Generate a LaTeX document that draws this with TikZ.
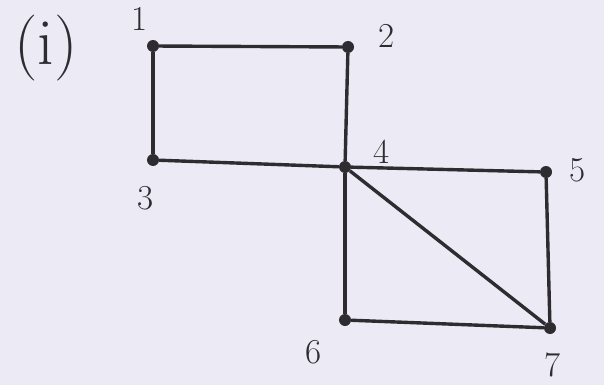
\documentclass[tikz,border=0pt]{standalone}
\begin{document}
\begin{tikzpicture}[x=1pt,y=-1pt,
  vert/.style={circle,fill=ink,inner sep=0pt,minimum size=12pt},
  edge/.style={draw=ink,line width=3.4pt},
  lbl/.style={text=ink,font=\fontsize{35}{40}\selectfont,inner sep=0pt}]
\definecolor{ink}{HTML}{2E2C30}
\definecolor{paper}{HTML}{ECEAF4}
\fill[paper] (0,0) rectangle (604,385);
\useasboundingbox (0,0) rectangle (604,385);
\node[vert] (v1) at (153,46) {};
\node[vert] (v2) at (348,47) {};
\node[vert] (v3) at (153,160) {};
\node[vert] (v4) at (345,167) {};
\node[vert] (v5) at (546,172) {};
\node[vert] (v6) at (345,320) {};
\node[vert] (v7) at (550,328) {};
\draw[edge] (v1) -- (v2);
\draw[edge] (v1) -- (v3);
\draw[edge] (v2) -- (v4);
\draw[edge] (v3) -- (v4);
\draw[edge] (v4) -- (v5);
\draw[edge] (v4) -- (v6);
\draw[edge] (v4) -- (v7);
\draw[edge] (v5) -- (v7);
\draw[edge] (v6) -- (v7);
\node[lbl] (l1) at (140,19) {1};
\node[lbl] (l2) at (387,36) {2};
\node[lbl] (l3) at (146,198) {3};
\node[lbl] (l4) at (382,152) {4};
\node[lbl] (l5) at (578,170) {5};
\node[lbl] (l6) at (314,352) {6};
\node[lbl] (l7) at (553,365) {7};
\node[lbl,font=\fontsize{66}{72}\selectfont] (title) at (46,48) {(i)};
\end{tikzpicture}
\end{document}
